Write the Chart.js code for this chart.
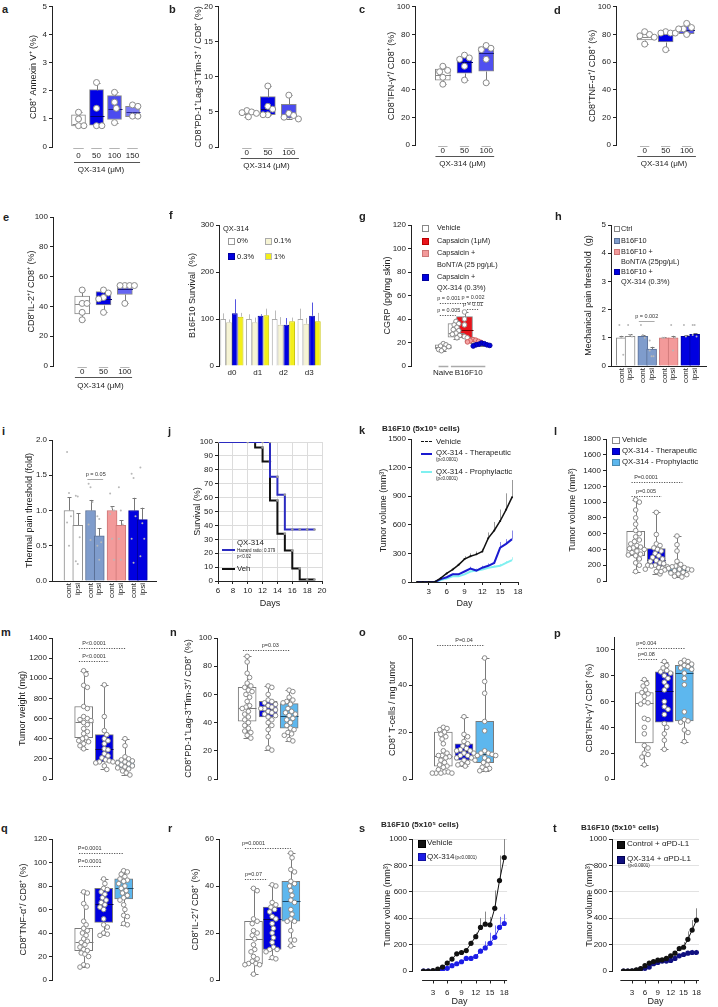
<!DOCTYPE html>
<html><head><meta charset="utf-8">
<script src="https://cdn.jsdelivr.net/npm/chart.js@4.4.0/dist/chart.umd.min.js"></script>
<style>
html,body{margin:0;padding:0;background:#fff;}
body{position:relative;width:718px;height:1007px;overflow:hidden;font-family:"Liberation Sans",Arial,Helvetica,sans-serif;}
canvas{position:absolute;}
.t{position:absolute;white-space:nowrap;line-height:1;color:#222;}
.sw{position:absolute;box-sizing:border-box;border:1px solid #888;}
.ln{position:absolute;height:0;}
</style></head><body>
<script>
// ================= DATA =================
// a
const a_cats = ['0','50','100','150'];
const a_q1 = [0.75,0.78,0.98,1.08], a_med = [0.83,1.1,1.35,1.25], a_q3 = [1.15,2.05,1.83,1.45];
const a_min = [0.74,0.76,0.85,1.08], a_max = [1.24,2.3,1.95,1.5];
const a_pts = [[1.24,1.0,0.76,0.76],[2.3,1.38,0.76,0.76],[1.95,1.6,1.38,0.87],[1.5,1.45,1.1,1.1]];
// b
const b_cats = ['0','50','100'];
const b_q1 = [4.6,4.6,4.1], b_med = [4.75,5.4,4.6], b_q3 = [5.0,7.2,6.1];
const b_min = [4.3,4.6,4.0], b_max = [5.2,8.7,7.4];
const b_pts = [[5.2,5.0,4.9,4.8,4.3],[8.7,5.8,5.4,4.6,4.6],[7.4,4.8,4.5,4.25,4.0]];
// c
const c_cats = ['0','50','100'];
const c_q1 = [47,52,53.5], c_med = [51,60,66.5], c_q3 = [55,63.5,71];
const c_min = [44,47,45], c_max = [57,65,72];
const c_pts = [[57,54,53,49,44],[65,63,62,57,47],[72,70,69,62,45]];
// d
const d_cats = ['0','50','100'];
const d_q1 = [76,74.5,80.5], d_med = [78,80,83], d_q3 = [80.5,80.5,86];
const d_min = [73,69,80], d_max = [82,82,88];
const d_pts = [[82,80,79,78,73],[82,81,81,81,69],[88,85,84,84,80]];
// e
const e_cats = ['0','50','100'];
const e_q1 = [35,41,48], e_med = [41.5,45,51.5], e_q3 = [47,50,53.5];
const e_min = [31,36,42], e_max = [51,51,54.5];
const e_pts = [[51,42,42,36,31],[51,49,46,45,36],[54,54,54,54,42]];
// f
const f_days = ['d0','d1','d2','d3'];
const f_v0 = [100,100,100,100], f_e0 = [12,10,18,22];
const f_v01 = [93,93,88,90], f_e01 = [6,10,16,12];
const f_v03 = [112,107,88,107], f_e03 = [30,3,14,28];
const f_v1 = [105,108,95,95], f_e1 = [8,14,8,18];
// g
const g_cats = ['Vehicle','Vehicle','Capsaicin (1μM)','Capsaicin + BoNT/A (25 pg/μL)','Capsaicin + QX-314 (0.3%)'];
const g_groups = ['Naive','B16F10'];
const g_q1 = [14.5,24.5,24,20.5,17.5], g_med = [16,28,31,21,18.5], g_q3 = [18,36,42,22,19];
const g_min = [13,23,24,20,17], g_max = [19,38,46,22.5,19.5];
const g_pts = [[19,18,17,16.5,15,14,13],[38,36,35,33,31,30,28,27,26,24],[46,40,35,25,24],[22.5,22,21.5,21,20.5,20],[19.5,19,18.5,18,18,17.5,17]];
// h, i
const hi_labels = ['cont','ipsi','cont','ipsi','cont','ipsi','cont','ipsi'];
const h_vals = [1.0,1.05,1.05,0.6,1.0,1.0,1.05,1.12];
const h_err = [0.07,0.07,0.04,0.08,0.02,0.07,0.05,0.05];
const h_pts = [[1.45,1.0,0.4],[1.45,1.1,1.05],[1.45,1.1,1.0],[0.9,0.35,0.35,0.55],[1.0,1.0],[1.45,0.55,1.0],[1.45,1.05],[1.45,1.45,1.05,1.1]];
const i_vals = [1.0,0.79,1.0,0.64,1.0,0.79,1.0,0.87];
const i_err = [0.19,0.17,0.15,0.11,0.06,0.07,0.18,0.17];
const i_pts = [[1.83,1.25,0.92,0.83,0.5],[1.21,1.2,0.62,0.28,0.24],[1.38,1.33,1.12,0.8,0.58],[0.92,0.88,0.55,0.5,0.3],[1.24,1.04,1.0,0.95,0.6,0.3],[1.33,1.0,0.8,0.6,0.3],[1.52,1.46,0.92,0.6,0.26],[1.61,0.82,0.6,0.35]];
// j
const j_vehT = [6,10,11,12,13,14,15,16,17,18,19];
const j_vehS = [100,100,100,96,86,58,34,22,9,1,1];
const j_qxT = [6,10,12,13,14,15,16,17,18,19];
const j_qxS = [100,100,100,100,75,62,37,37,37,37];
// k
const k_days = [1,2,3,4,5,6,7,8,9,10,11,12,13,14,15,16,17];
const k_xt = [3,6,9,12,15,18];
const k_veh = [0,0,0,0,40,90,130,180,240,270,290,320,460,540,640,760,890];
const k_vehE = [0,0,0,0,10,10,20,20,30,30,30,30,60,90,120,170,180];
const k_ther = [0,0,0,0,30,50,80,80,110,140,120,150,170,200,360,400,450];
const k_therE = [0,0,0,0,5,10,10,10,15,20,20,20,25,30,60,50,90];
const k_pro = [0,0,0,0,20,35,60,60,80,110,120,130,150,160,170,200,230];
const k_proE = [0,0,0,0,5,5,10,10,10,10,10,15,15,15,20,20,30];
// l
const l_q1 = [320,190,110], l_med = [420,270,140], l_q3 = [630,410,170], l_min = [120,90,50], l_max = [1030,870,570];
const l_pts = [[1030,1000,900,800,720,640,600,560,520,500,470,450,430,420,410,400,380,360,340,330,320,280,230,200,120],
  [870,590,470,450,420,400,380,350,320,300,280,260,250,230,220,200,200,190,180,170,160,150,120,90],
  [570,460,380,250,210,190,180,170,160,150,150,140,140,130,120,110,100,90,80,60,50]];
// m
const m_q1 = [410,170,110], m_med = [570,300,150], m_q3 = [720,440,190], m_min = [300,95,40], m_max = [1075,935,400];
const m_pts = [[1075,1040,930,910,720,700,620,600,590,580,560,540,500,470,450,410,400,380,370,350,330,300],
  [935,620,480,440,400,380,350,300,290,250,230,210,190,180,170,170,160,130,95],
  [400,330,220,200,190,180,170,160,150,140,130,120,110,100,80,60,40]];
// n
const n_q1 = [41,44,36], n_med = [50.5,50,45], n_q3 = [65,55,53.5], n_min = [29,20.5,27], n_max = [87,66,63];
const n_pts = [[87,83,75,72,68,66,65,63,62,60,58,55,52,51,50,48,46,44,42,40,38,36,34,33,31,29],
  [66,65,60,56,55,54,53,52,51,50,50,49,48,47,46,45,44,42,40,38,35,30,22,20.5],
  [63,62,58,56,55,54,53,50,48,47,46,45,43,42,40,38,36,35,33,32,31,28,27]];
// o
const o_q1 = [5.5,8,7], o_med = [10,12,10.5], o_q3 = [20,15,24.5], o_min = [2.5,5.5,3.5], o_max = [22,26.5,51.5];
const o_pts = [[22,21.5,21,20,19,18,17,15,12,11,10,10,9.5,9,8,7,6,5.5,5,4,3,3,2.5,2.5,2.5,2.5],
  [26.5,19,18,16,15,14,13,12.5,12,12,11,11,10,10,9,9,8,8,7,6.5,6,5.5],
  [51.5,41.5,36.5,24.5,20.5,12,11,11,10.5,10,10,9,8,7,6,5,4.5,4,3.5]];
// p
const p_q1 = [28,44,45], p_med = [58.5,68,82], p_q3 = [67,83,88], p_min = [11,23,29], p_max = [77,91,92];
const p_pts = [[77,74,72,69,67,66,64,60,59,58,47,46,40,35,26,24,20,19,17,11],
  [91,88,86,84,83,82,80,78,75,72,69,60,56,54,50,43,40,35,30,23],
  [92,91,90,89,88,87,86,85,82,78,73,52,46,45,44,38,36,29]];
// q
const q_q1 = [25,49,69], q_med = [32,65,78], q_q3 = [44,78,86], q_min = [11,38,47], q_max = [75,86,93];
const q_pts = [[75,74,65,62,50,47,44,42,40,38,35,33,32,30,28,26,25,23,22,20,13,12,11],
  [86,82,78,77,75,73,70,68,66,64,62,60,52,47,45,40,39,38],
  [93,92,90,88,86,85,84,82,80,78,76,74,72,70,68,64,60,55,54,48,47]];
// r
const r_q1 = [7,13,25], r_med = [17.5,26,33.5], r_q3 = [25,31,42], r_min = [2.5,9,14.5], r_max = [39,40.5,54];
const r_pts = [[39,38,26,25,24,21,20,19,17.5,15,13,12,10,9,8,7,7,6.5,6.5,2.5],
  [40.5,40,33,32,31,30,29,27,26,24,22,20,18,16,14,13,13,12,9.5,9],
  [54,52,47,46,42,41,40,38,36,34,33,30,28,26,25,25,21,17,17,14.5]];
const lr_cats = ['Vehicle','QX-314 - Therapeutic','QX-314 - Prophylactic'];
// s, t
const st_days = [1,2,3,4,5,6,7,8,9,10,11,12,13,14,15,16,17,18];
const st_xt = [3,6,9,12,15,18];
const s_veh = [0,0,3,15,30,60,90,130,140,155,210,260,330,355,350,475,685,860];
const s_vehE = [0,0,0,5,8,10,10,15,15,15,20,30,70,95,60,135,190,140];
const s_qx = [0,0,0,0,12,20,40,55,70,95,95,110,150,175,210,255,330,360];
const s_qxE = [0,0,0,0,3,5,5,5,8,10,10,15,20,50,80,90,80,70];
const t_ctl = [0,0,2,8,18,40,60,72,82,85,95,115,135,170,180,240,310,385];
const t_ctlE = [0,0,0,2,3,5,5,8,8,8,10,10,15,20,40,60,75,90];
const t_qx = [0,0,0,5,15,20,30,55,65,75,75,80,95,115,125,135,140,140];
const t_qxE = [0,0,0,2,3,3,5,5,5,8,8,8,8,10,10,15,20,20];

// annotations (p-value brackets)
const g_ann = [{y:53.6,x1:-0.4,x2:2.7,tx:0.65,t:'p = 0.001'},{y:43.4,x1:-0.4,x2:1.47,tx:0.65,t:'p = 0.005'},{y:54.5,x1:2.8,x2:4.75,tx:3.5,t:'p = 0.002'},{y:48.5,x1:2.8,x2:4.1,tx:3.5,t:'p = 0.01'}];
const h_ann = [{y:1.6,x1:2.0,x2:3.8,tx:2.9,t:'p = 0.002',dash:[],c:'#aaa'}];
const i_ann = [{y:1.45,x1:2.1,x2:3.9,tx:3.05,t:'p = 0.05',dash:[],c:'#aaa'}];
const l_ann = [{y:1255,x1:-0.2,x2:2.26,tx:0.5,t:'P=0.0001'},{y:1077,x1:-0.2,x2:1.26,tx:0.5,t:'p=0.005'}];
const m_ann = [{y:1300,x1:-0.23,x2:2.03,tx:0.5,t:'P<0.0001'},{y:1172,x1:-0.23,x2:1.23,tx:0.5,t:'P<0.0001'}];
const n_ann = [{y:91.5,x1:-0.2,x2:2.06,tx:1.1,t:'p=0.03'}];
const o_ann = [{y:57,x1:-0.3,x2:2.0,tx:1.0,t:'P=0.04'}];
const p_ann = [{y:101.5,x1:-0.3,x2:2.03,tx:0.1,t:'p=0.004'},{y:93,x1:-0.3,x2:0.7,tx:0.1,t:'p=0.08'}];
const q_ann = [{y:108.5,x1:-0.23,x2:2.0,tx:0.3,t:'P=0.0001'},{y:97.4,x1:-0.23,x2:0.83,tx:0.3,t:'P=0.0001'}];
const r_ann = [{y:56,x1:-0.46,x2:2.0,tx:0,t:'p=0.0001'},{y:43,x1:-0.46,x2:0.75,tx:0,t:'p=0.07'}];

// ================= STYLE =================
const FF = '"Liberation Sans", Arial, Helvetica, sans-serif';
const BLUE = '#0000e0', LBLUE = '#5db7ee', STEEL = '#7f9ccc', SALMON = '#f39a9a';
Chart.defaults.font.family = FF;
Chart.defaults.font.size = 8;
Chart.defaults.color = '#222';
Chart.defaults.plugins.legend.display = false;
Chart.defaults.plugins.tooltip.enabled = false;
Chart.defaults.animation = false;
Chart.defaults.events = [];

// ================= PLUGINS =================
const boxPlug = { id: 'boxw',
  afterDatasetDraw(chart, args) {
    const ds = chart.data.datasets[args.index]; const b = ds && ds.box; if (!b) return;
    const ctx = chart.ctx, x = chart.scales.x, y = chart.scales.y;
    const Y = v => Math.round(y.getPixelForValue(v)) + 0.5;
    ctx.save(); ctx.lineWidth = 1;
    ds.data.forEach((d, i) => {
      const px = Math.round(x.getPixelForValue(d.x)) + 0.5;
      ctx.strokeStyle = Array.isArray(b.wc) ? b.wc[i] : b.wc;
      ctx.beginPath();
      ctx.moveTo(px, Y(b.q3[i])); ctx.lineTo(px, Y(b.max[i]));
      ctx.moveTo(px - b.cap, Y(b.max[i])); ctx.lineTo(px + b.cap, Y(b.max[i]));
      ctx.moveTo(px, Y(b.q1[i])); ctx.lineTo(px, Y(b.min[i]));
      ctx.moveTo(px - b.cap, Y(b.min[i])); ctx.lineTo(px + b.cap, Y(b.min[i]));
      ctx.stroke();
      ctx.strokeStyle = Array.isArray(b.medc) ? b.medc[i] : b.medc;
      ctx.beginPath(); ctx.moveTo(px - b.bw / 2, Y(b.med[i])); ctx.lineTo(px + b.bw / 2, Y(b.med[i])); ctx.stroke();
    });
    ctx.restore();
  } };
const errPlug = { id: 'errb',
  beforeDatasetsDraw(chart) {
    const ctx = chart.ctx;
    chart.data.datasets.forEach((ds, di) => {
      if (!ds.errUp) return;
      const meta = chart.getDatasetMeta(di); const y = chart.scales[meta.yAxisID];
      ctx.save(); ctx.strokeStyle = ds.errColor || '#888'; ctx.lineWidth = ds.errW || 1;
      meta.data.forEach((el, i) => {
        const raw = ds.data[i]; const v = (raw !== null && typeof raw === 'object') ? raw.y : raw;
        const e = ds.errUp[i]; if (v == null || !e) return;
        const X = Math.round(el.x) + 0.5, y0 = y.getPixelForValue(v), y1 = y.getPixelForValue(v + e);
        ctx.beginPath(); ctx.moveTo(X, y0); ctx.lineTo(X, y1);
        if (ds.errCap) { ctx.moveTo(X - ds.errCap, Math.round(y1) + 0.5); ctx.lineTo(X + ds.errCap, Math.round(y1) + 0.5); }
        ctx.stroke();
      });
      ctx.restore();
    });
  } };
const decoPlug = { id: 'deco',
  afterDraw(chart) {
    const D = chart.canvas._deco; if (!D) return;
    const ctx = chart.ctx, ca = chart.chartArea, x = chart.scales.x, y = chart.scales.y;
    ctx.save();
    (D.segs || []).forEach(s => {
      ctx.strokeStyle = s.c; ctx.lineWidth = s.w; ctx.setLineDash([]);
      const yy = Math.round(ca.bottom + s.dy) + 0.5;
      ctx.beginPath(); ctx.moveTo(x.getPixelForValue(s.x1), yy); ctx.lineTo(x.getPixelForValue(s.x2), yy); ctx.stroke();
    });
    (D.pl || []).forEach(p => {
      const yy = Math.round(y.getPixelForValue(p.y)) + 0.5;
      ctx.strokeStyle = p.c || '#555'; ctx.lineWidth = 1; ctx.setLineDash(p.dash || [1.2, 1.3]);
      ctx.beginPath(); ctx.moveTo(x.getPixelForValue(p.x1), yy); ctx.lineTo(x.getPixelForValue(p.x2), yy); ctx.stroke();
      ctx.setLineDash([]);
      ctx.fillStyle = '#333'; ctx.font = (p.fs || 5.5) + 'px ' + FF; ctx.textAlign = 'center'; ctx.textBaseline = 'bottom';
      ctx.fillText(p.t, x.getPixelForValue(p.tx), yy - 2);
    });
    if (D.xl) {
      const yy = Math.round(ca.bottom + D.xl.dy) + 0.5;
      ctx.strokeStyle = '#222'; ctx.lineWidth = 1; ctx.beginPath();
      ctx.moveTo(x.getPixelForValue(D.xl.x1), yy); ctx.lineTo(x.getPixelForValue(D.xl.x2), yy);
      D.xl.ticks.forEach(t => { const X = Math.round(x.getPixelForValue(t)) + 0.5; ctx.moveTo(X, yy); ctx.lineTo(X, yy + 3); });
      ctx.stroke();
    }
    ctx.restore();
  } };
Chart.register(boxPlug, errPlug, decoPlug);

// ================= HELPERS =================
function yAxis(max, step, title, ext) {
  const o = {
    type: 'linear', min: 0, max: max,
    ticks: { stepSize: step, padding: 2, autoSkip: false, font: { size: 8 }, color: '#222', callback: v => String(v) },
    grid: { drawOnChartArea: false, drawTicks: true, tickLength: 3, tickColor: '#222', tickWidth: 1 },
    border: { display: true, color: '#222', width: 1 },
    title: { display: !!title, text: title || '', font: { size: 9 }, padding: 0, color: '#222' }
  };
  return Object.assign(o, ext || {});
}
function mk(g, cfg) {
  const padT = (g.padT != null) ? g.padT : 8, padR = (g.padR != null) ? g.padR : 10;
  const L = g.ax - g.yW, T = g.top - padT;
  const W = Math.round(g.right - g.ax + g.yW + padR), H = Math.round(g.bottom - g.top + padT + g.xH);
  const c = document.createElement('canvas');
  c.width = W; c.height = H;
  c.style.left = L + 'px'; c.style.top = T + 'px'; c.style.width = W + 'px'; c.style.height = H + 'px';
  c._deco = g.deco || null;
  document.body.appendChild(c);
  const o = cfg.options;
  o.responsive = false; o.maintainAspectRatio = false; o.animation = false; o.devicePixelRatio = 1;
  o.layout = { padding: { top: padT, right: padR, left: 0, bottom: 0 } };
  o.scales.y.afterFit = s => { s.width = g.yW; };
  o.scales.x.afterFit = s => { s.height = g.xH; };
  return new Chart(c, cfg);
}
function swarm(vals, cx, pxY, pxX, r) {
  const idx = vals.map((v, i) => i).sort((a, b) => vals[b] - vals[a]);
  const placed = [], out = [];
  const D = 2 * r + 0.4;
  idx.forEach(i => {
    const yp = vals[i] * pxY;
    let off = 0;
    for (let k = 0; k < 80; k++) {
      const o = (k === 0) ? 0 : ((k % 2) ? 1 : -1) * Math.ceil(k / 2) * r * 0.8;
      off = o;
      if (placed.every(p => (p.o - o) * (p.o - o) + (p.y - yp) * (p.y - yp) >= D * D)) break;
    }
    placed.push({ o: off, y: yp });
    out.push({ x: cx + off / pxX, y: vals[i] });
  });
  return out;
}
function boxPanel(g, d, st) {
  const xs = st.xs || d.q1.map((v, i) => i);
  const pxY = (g.bottom - g.top) / st.ymax;
  const pts = [], pf = [], pe = [];
  d.pts.forEach((arr, ci) => {
    swarm(arr, xs[ci], pxY, g.dc, st.r).forEach(p => {
      pts.push(p);
      pf.push(st.pfill ? st.pfill[ci] : '#fff');
      pe.push(st.pedge ? st.pedge[ci] : '#8a8a8a');
    });
  });
  const segs = [];
  if (st.dash) xs.forEach(x => segs.push({ x1: x - st.dash / g.dc, x2: x + st.dash / g.dc, dy: 1, c: '#b4b4b4', w: 1 }));
  if (st.gl) segs.push({ x1: st.gl[0], x2: st.gl[1], dy: st.gl[2], c: '#555', w: 1 });
  if (st.segs) st.segs.forEach(s => segs.push(s));
  g.deco = { segs: segs, pl: st.pl || [] };
  const xt = st.xt || { vals: xs, labels: d.cats };
  const xmin = (g.ax - g.c0) / g.dc, xmax = (g.right - g.c0) / g.dc;
  return mk(g, {
    type: 'scatter',
    data: { datasets: [
      { type: 'bar', order: 2, data: xs.map((x, i) => ({ x: x, y: [d.q1[i], d.q3[i]] })),
        backgroundColor: st.fill, borderColor: st.edge || '#7a7a7a', borderWidth: 1, borderSkipped: false, barThickness: st.bw,
        box: { med: d.med, min: d.min, max: d.max, q1: d.q1, q3: d.q3, cap: st.cap || 3, medc: st.medc || '#555', wc: st.wc || '#7a7a7a', bw: st.bw } },
      { type: 'scatter', order: 1, data: pts, pointRadius: st.r, pointBackgroundColor: pf, pointBorderColor: pe, pointBorderWidth: 1 }
    ] },
    options: { scales: {
      x: { type: 'linear', min: xmin, max: xmax,
        afterBuildTicks: s => { s.ticks = xt.vals.map(v => ({ value: v })); },
        ticks: { display: !!st.xlab, autoSkip: false, maxRotation: 0, minRotation: 0, padding: st.lpad || 1, font: { size: 8 }, color: '#222',
          callback: v => { const k = xt.vals.indexOf(v); return k >= 0 ? xt.labels[k] : ''; } },
        grid: { display: false, drawTicks: false }, border: { display: false },
        title: { display: !!st.group, text: st.group || '', font: { size: 8 }, padding: 0, color: '#222' } },
      y: yAxis(st.ymax, st.step, st.title, st.yext)
    } }
  });
}
function barPanel(g, vals, errs, dots, st) {
  const xs = vals.map((v, i) => i + Math.floor(i / 2) * 0.46);
  const dp = [];
  dots.forEach((arr, bi) => arr.forEach((v, k) => dp.push({ x: xs[bi] + ((k % 3) - 1) * 0.22, y: v })));
  g.deco = { segs: [], pl: st.pl || [] };
  return mk(g, { type: 'scatter', data: { datasets: [
    { type: 'bar', order: 2, data: xs.map((x, i) => ({ x: x, y: vals[i] })), backgroundColor: st.fill, borderColor: st.edge, borderWidth: 1,
      barThickness: 10, borderSkipped: 'start', errUp: errs, errColor: '#777', errCap: 2 },
    { type: 'scatter', order: 1, data: dp, pointRadius: 1, pointBackgroundColor: '#b8b8b8', pointBorderWidth: 0 }
  ] }, options: { scales: {
    x: { type: 'linear', min: (g.ax - g.c0) / g.dc, max: (g.right - g.c0) / g.dc,
      afterBuildTicks: s => { s.ticks = xs.map(v => ({ value: v })); },
      ticks: { autoSkip: false, minRotation: 90, maxRotation: 90, padding: 2, font: { size: 8 }, color: '#222',
        callback: v => { const k = xs.indexOf(v); return k >= 0 ? st.labels[k] : ''; } },
      grid: { display: false, drawTicks: false }, border: { display: true, color: '#222' } },
    y: yAxis(st.ymax, st.step, st.title, st.yext)
  } } });
}
function growth(g, sets, st) {
  g.deco = { xl: { x1: st.xl[0], x2: st.xl[1], dy: 9, ticks: st.xt } };
  return mk(g, { type: 'scatter', data: { datasets: sets.map(s => ({
      type: 'line', order: s.o, data: st.days.map((d, i) => ({ x: d, y: s.v[i] })), borderColor: s.c, backgroundColor: s.c,
      borderWidth: 1, pointRadius: 2.6, pointBackgroundColor: s.c, pointBorderWidth: 0, errUp: s.e, errColor: s.ec })) },
    options: { scales: {
      x: { type: 'linear', min: st.xmin, max: st.xmax, afterBuildTicks: s => { s.ticks = st.xt.map(v => ({ value: v })); },
        ticks: { autoSkip: false, maxRotation: 0, minRotation: 0, padding: 17, font: { size: 8 } },
        grid: { display: false, drawTicks: false }, border: { display: false },
        title: { display: true, text: 'Day', font: { size: 9 }, padding: 0 } },
      y: yAxis(1000, 200, 'Tumor volume (mm³)', { grid: { drawOnChartArea: true, color: c => (c.tick && c.tick.value === 0) ? 'rgba(0,0,0,0)' : '#e2e2e2', drawTicks: true, tickLength: 3, tickColor: '#222' } })
    } } });
}
function T(x, y, s, size, o) {
  o = o || {};
  const d = document.createElement('div'); d.className = 't'; d.textContent = s;
  d.style.left = x + 'px'; d.style.top = (y - size * 0.5) + 'px'; d.style.fontSize = size + 'px';
  if (o.b) d.style.fontWeight = 'bold';
  if (o.c) d.style.color = o.c;
  document.body.appendChild(d); return d;
}
function SW(x, y, w, h, bg, bd) {
  const d = document.createElement('div'); d.className = 'sw';
  Object.assign(d.style, { left: x + 'px', top: y + 'px', width: w + 'px', height: h + 'px', background: bg, borderColor: bd });
  document.body.appendChild(d);
}
function LN(x1, x2, y, c, w, style) {
  const d = document.createElement('div'); d.className = 'ln';
  Object.assign(d.style, { left: x1 + 'px', top: (y - w / 2) + 'px', width: (x2 - x1) + 'px', borderTop: w + 'px ' + (style || 'solid') + ' ' + c });
  document.body.appendChild(d);
}

// ================= PANELS =================
const MEDC = ['#888', '#000070', '#1a1a80', '#2a2a90'];
// a
boxPanel({ ax: 52, top: 6, bottom: 147, right: 150, yW: 24, xH: 28, padT: 6, c0: 71, dc: 24 },
  { cats: a_cats, q1: a_q1, med: a_med, q3: a_q3, min: a_min, max: a_max, pts: a_pts },
  { ymax: 5, step: 1, title: 'CD8⁺ Annexin V⁺ (%)', fill: ['#fff', '#0000e6', '#4b4bef', '#7d7df5'], edge: '#888', medc: MEDC, bw: 14, r: 3, cap: 3,
    xlab: true, lpad: 4, dash: 7, gl: [-0.25, 3.42, 15], group: 'QX-314 (μM)' });
// b
boxPanel({ ax: 218, top: 6, bottom: 147, right: 315, yW: 25, xH: 24, padT: 6, c0: 237, dc: 31.5 },
  { cats: b_cats, q1: b_q1, med: b_med, q3: b_q3, min: b_min, max: b_max, pts: b_pts },
  { ymax: 20, step: 5, title: 'CD8⁺PD-1⁺Lag-3⁺Tim-3⁺ / CD8⁺ (%)', fill: ['#fff', '#0000e6', '#4b4bef'], edge: '#888', medc: MEDC, bw: 15, r: 3, cap: 3,
    xlab: true, lpad: 1, dash: 7, gl: [-0.29, 2.48, 11], group: 'QX-314 (μM)' });
// c
boxPanel({ ax: 415, top: 6, bottom: 145, right: 510, yW: 29, xH: 24, padT: 6, c0: 433, dc: 32.5 },
  { cats: c_cats, q1: c_q1, med: c_med, q3: c_q3, min: c_min, max: c_max, pts: c_pts },
  { ymax: 100, step: 20, title: 'CD8⁺IFN-γ⁺/ CD8⁺ (%)', fill: ['#fff', '#0000e6', '#5050f0'], edge: '#888', medc: MEDC, bw: 15, r: 3, cap: 3,
    xlab: true, lpad: 1, dash: 7, gl: [-0.34, 2.37, 11], group: 'QX-314 (μM)' });
// d
boxPanel({ ax: 616, top: 5, bottom: 145, right: 712, yW: 29, xH: 24, padT: 5, padR: 5, c0: 635, dc: 31.5 },
  { cats: d_cats, q1: d_q1, med: d_med, q3: d_q3, min: d_min, max: d_max, pts: d_pts },
  { ymax: 100, step: 20, title: 'CD8⁺TNF-α⁺/ CD8⁺ (%)', fill: ['#fff', '#0000e6', '#5050f0'], edge: '#888', medc: MEDC, bw: 15, r: 3, cap: 3,
    xlab: true, lpad: 1, dash: 7, gl: [-0.35, 2.44, 11], group: 'QX-314 (μM)' });
// e
boxPanel({ ax: 53, top: 217, bottom: 366, right: 148, yW: 27, xH: 25, c0: 73, dc: 32 },
  { cats: e_cats, q1: e_q1, med: e_med, q3: e_q3, min: e_min, max: e_max, pts: e_pts },
  { ymax: 100, step: 20, title: 'CD8⁺IL-2⁺/ CD8⁺ (%)', fill: ['#fff', '#0000e6', '#6565f2'], edge: '#888', medc: MEDC, bw: 15, r: 3, cap: 3,
    xlab: true, lpad: 1, dash: 7, gl: [-0.34, 2.34, 11], group: 'QX-314 (μM)' });
// f
mk({ ax: 219, top: 225, bottom: 366, right: 322, yW: 32, xH: 16 }, { type: 'bar', data: { labels: f_days, datasets: [
    { data: f_v0, backgroundColor: '#fff', borderColor: '#aaa', borderWidth: 1, errUp: f_e0, errColor: '#bbb' },
    { data: f_v01, backgroundColor: '#f6f4d4', borderColor: '#c8c6a8', borderWidth: 1, errUp: f_e01, errColor: '#bbb' },
    { data: f_v03, backgroundColor: BLUE, borderColor: '#0000a0', borderWidth: 1, errUp: f_e03, errColor: '#5555e0' },
    { data: f_v1, backgroundColor: '#f3ef1a', borderColor: '#c8c400', borderWidth: 1, errUp: f_e1, errColor: '#bbb' }
  ] }, options: { datasets: { bar: { categoryPercentage: 0.9, barPercentage: 1 } }, scales: {
    x: { type: 'category', offset: true, grid: { display: false, drawTicks: false }, border: { display: false }, ticks: { padding: 2, font: { size: 8 } } },
    y: yAxis(300, 100, 'B16F10 Survival  (%)') } } });
// g
boxPanel({ ax: 411, top: 225, bottom: 366, right: 510, yW: 29, xH: 16, c0: 426, dc: 17 },
  { cats: g_cats, q1: g_q1, med: g_med, q3: g_q3, min: g_min, max: g_max, pts: g_pts },
  { xs: g_cats.map((c, i) => (i === 0 ? 0 : i + 0.5)), xt: { vals: [0, 3], labels: g_groups },
    ymax: 120, step: 20, title: 'CGRP (pg/mg skin)', fill: ['#fff', '#fff', '#e8141c', SALMON, BLUE], edge: '#888',
    medc: ['#888', '#888', '#7a0000', '#c06060', '#000070'], bw: 16, r: 2.3, cap: 3,
    pfill: ['#fff', '#fff', '#fff', '#f4a4a4', BLUE], pedge: ['#888', '#888', '#999', '#d06060', '#0000a0'],
    xlab: true, lpad: 2, segs: [{ x1: -0.55, x2: 0.6, dy: 0, c: '#aaa', w: 1.5 }, { x1: 0.9, x2: 4.95, dy: 0, c: '#aaa', w: 1.5 }], pl: g_ann });
// h
const HI_FILL = ['#fff', '#fff', STEEL, STEEL, SALMON, SALMON, BLUE, BLUE];
const HI_EDGE = ['#888', '#888', '#5a6f95', '#5a6f95', '#c77', '#c77', '#0000a0', '#0000a0'];
barPanel({ ax: 611, top: 225, bottom: 366, right: 706, yW: 28, xH: 30, padR: 8, c0: 616, dc: 10 }, h_vals, h_err, h_pts,
  { labels: hi_labels, fill: HI_FILL, edge: HI_EDGE, ymax: 5, step: 1, title: 'Mechanical pain threshold  (g)', pl: h_ann });
// i
barPanel({ ax: 52, top: 440, bottom: 581, right: 156, yW: 28, xH: 22, c0: 64, dc: 10 }, i_vals, i_err, i_pts,
  { labels: hi_labels, fill: HI_FILL, edge: HI_EDGE, ymax: 2, step: 0.5, title: 'Thermal pain threshold (fold)', pl: i_ann,
    yext: { ticks: { stepSize: 0.5, padding: 2, autoSkip: false, font: { size: 8 }, color: '#222', callback: v => v.toFixed(1) } } });
// j
mk({ ax: 218, top: 442, bottom: 581, right: 322, yW: 26, xH: 28, padR: 8 }, { type: 'scatter', data: { datasets: [
    { type: 'line', data: j_qxT.map((t, i) => ({ x: t, y: j_qxS[i] })), stepped: 'after', borderColor: '#2b2bc0', borderWidth: 2, pointRadius: 1.3, pointBackgroundColor: '#999', pointBorderWidth: 0 },
    { type: 'line', data: j_vehT.map((t, i) => ({ x: t, y: j_vehS[i] })), stepped: 'after', borderColor: '#111', borderWidth: 2, pointRadius: 1.3, pointBackgroundColor: '#999', pointBorderWidth: 0 }
  ] }, options: { scales: {
    x: { type: 'linear', min: 6, max: 20, ticks: { stepSize: 2, autoSkip: false, maxRotation: 0, padding: 2, font: { size: 8 } },
      grid: { color: '#dcdcdc', drawTicks: true, tickLength: 3, tickColor: '#222' }, border: { display: true, color: '#222' },
      title: { display: true, text: 'Days', font: { size: 9 }, padding: 0 } },
    y: yAxis(100, 10, 'Survival (%)', { grid: { color: '#dcdcdc', drawOnChartArea: true, drawTicks: true, tickLength: 3, tickColor: '#222' } })
  } } });
// k
const kset = (v, e, c, ec, w, pr) => ({ type: 'line', data: k_days.map((d, i) => ({ x: d, y: v[i] })), borderColor: c, backgroundColor: c,
  borderWidth: w, pointRadius: pr, pointBackgroundColor: c, pointBorderWidth: 0, errUp: e, errColor: ec });
mk({ ax: 411, top: 439, bottom: 582, right: 518, yW: 33, xH: 27, padR: 8 }, { type: 'scatter', data: { datasets: [
    kset(k_veh, k_vehE, '#111', '#999', 1.5, 1),
    kset(k_ther, k_therE, '#1a1ad0', '#8a8ae6', 2, 0),
    kset(k_pro, k_proE, '#7ff0f0', '#b0f4f4', 2, 0)
  ] }, options: { scales: {
    x: { type: 'linear', min: 0, max: 18, afterBuildTicks: s => { s.ticks = k_xt.map(v => ({ value: v })); },
      ticks: { autoSkip: false, maxRotation: 0, padding: 2, font: { size: 8 } },
      grid: { drawOnChartArea: false, drawTicks: true, tickLength: 3, tickColor: '#222' }, border: { display: true, color: '#222' },
      title: { display: true, text: 'Day', font: { size: 9 }, padding: 0 } },
    y: yAxis(1500, 300, 'Tumor volume (mm³)')
  } } });
// l - r
const LR_FILL = ['#fff', BLUE, LBLUE], LR_MED = ['#777', '#000060', '#1a4a6a'];
const lrst = (ymax, step, title, pl, extra) => Object.assign({ ymax, step, title, pl, fill: LR_FILL, edge: '#7a7a7a', medc: LR_MED, bw: 18, r: 2.3, cap: 4 }, extra || {});
boxPanel({ ax: 606, top: 439, bottom: 581, right: 700, yW: 39, xH: 8, padR: 12, c0: 627, dc: 31 },
  { cats: lr_cats, q1: l_q1, med: l_med, q3: l_q3, min: l_min, max: l_max, pts: l_pts }, lrst(1800, 200, 'Tumor volume (mm³)', l_ann));
boxPanel({ ax: 52, top: 638, bottom: 779, right: 150, yW: 35, xH: 8, c0: 75, dc: 31 },
  { cats: lr_cats, q1: m_q1, med: m_med, q3: m_q3, min: m_min, max: m_max, pts: m_pts }, lrst(1400, 200, 'Tumor weight (mg)', m_ann));
boxPanel({ ax: 217, top: 638, bottom: 779, right: 318, yW: 34, xH: 8, c0: 237, dc: 31.5 },
  { cats: lr_cats, q1: n_q1, med: n_med, q3: n_q3, min: n_min, max: n_max, pts: n_pts }, lrst(100, 20, 'CD8⁺PD-1⁺Lag-3⁺Tim-3⁺/ CD8⁺ (%)', n_ann));
boxPanel({ ax: 412, top: 638, bottom: 779, right: 512, yW: 25, xH: 8, c0: 434, dc: 31 },
  { cats: lr_cats, q1: o_q1, med: o_med, q3: o_q3, min: o_min, max: o_max, pts: o_pts }, lrst(60, 20, 'CD8⁺ T-cells / mg tumor', o_ann));
boxPanel({ ax: 614, top: 637, bottom: 779, right: 712, yW: 30, xH: 8, padR: 5, c0: 635, dc: 30 },
  { cats: lr_cats, q1: p_q1, med: p_med, q3: p_q3, min: p_min, max: p_max, pts: p_pts },
  lrst(110, 20, 'CD8⁺IFN-γ⁺/ CD8⁺ (%)', p_ann, { yext: { afterBuildTicks: s => { s.ticks = s.ticks.filter(t => t.value <= 100); } } }));
boxPanel({ ax: 52, top: 839, bottom: 980, right: 150, yW: 34, xH: 8, c0: 75, dc: 30 },
  { cats: lr_cats, q1: q_q1, med: q_med, q3: q_q3, min: q_min, max: q_max, pts: q_pts }, lrst(120, 20, 'CD8⁺TNF-α⁺/ CD8⁺ (%)', q_ann));
boxPanel({ ax: 219, top: 839, bottom: 980, right: 318, yW: 29, xH: 8, c0: 246, dc: 28 },
  { cats: lr_cats, q1: r_q1, med: r_med, q3: r_q3, min: r_min, max: r_max, pts: r_pts }, lrst(60, 20, 'CD8⁺IL-2⁺/ CD8⁺ (%)', r_ann));
// s
growth({ ax: 412, top: 839, bottom: 971, right: 516, yW: 30, xH: 36 }, [
    { v: s_veh, e: s_vehE, c: '#111', ec: '#888', o: 0 },
    { v: s_qx, e: s_qxE, c: '#1c1ce6', ec: '#7a7af0', o: 1 }
  ], { days: st_days, xt: st_xt, xmin: -1.42, xmax: 18.6, xl: [0.7, 18.6] });
// t
growth({ ax: 612, top: 839, bottom: 971, right: 716, yW: 28, xH: 36, padR: 2 }, [
    { v: t_ctl, e: t_ctlE, c: '#111', ec: '#888', o: 0 },
    { v: t_qx, e: t_qxE, c: '#101080', ec: '#7070c0', o: 1 }
  ], { days: st_days, xt: st_xt, xmin: -1.68, xmax: 18.6, xl: [0.27, 18.6] });

// ================= TEXT / LEGENDS =================
[['a',2,9],['b',169,9],['c',359,9],['d',554,10],['e',3,217],['f',169,215],['g',359,216],['h',555,216],
 ['i',2,431],['j',168,431],['k',359,430],['l',554,431],['m',1,632],['n',170,632],['o',359,632],['p',554,633],
 ['q',1,828],['r',168,828],['s',359,828],['t',553,828]].forEach(l => T(l[1], l[2], l[0], 11, { b: 1 }));
// f legend
T(223, 229, 'QX-314', 7.5);
SW(228, 238, 7, 7, '#fff', '#999'); T(237, 241, '0%', 7.5);
SW(265, 238, 7, 7, '#f6f4d4', '#aaa'); T(274, 241, '0.1%', 7.5);
SW(228, 253, 7, 7, BLUE, '#0000a0'); T(237, 257, '0.3%', 7.5);
SW(265, 253, 7, 7, '#f3ef1a', '#bbb'); T(274, 257, '1%', 7.5);
// g legend
SW(422, 225, 7, 7, '#fff', '#888'); T(437, 228, 'Vehicle', 7.3);
SW(422, 238, 7, 7, '#e8141c', '#b00'); T(437, 241, 'Capsaicin (1μM)', 7.3);
SW(422, 250, 7, 7, SALMON, '#c77'); T(437, 253, 'Capsaicin +', 7.3); T(437, 265, 'BoNT/A (25 pg/μL)', 7.3);
SW(422, 274, 7, 7, BLUE, '#0000a0'); T(437, 277, 'Capsaicin +', 7.3); T(437, 288, 'QX-314 (0.3%)', 7.3);
// h legend
SW(614, 226, 6, 6, '#fff', '#888'); T(621, 229, 'Ctrl', 7.3);
SW(614, 238, 6, 6, STEEL, '#5a6f95'); T(621, 241, 'B16F10', 7.3);
SW(614, 249, 6, 6, SALMON, '#c77'); T(621, 252, 'B16F10 +', 7.3); T(621, 262, 'BoNT/A (25pg/μL)', 7.3);
SW(614, 269, 6, 6, BLUE, '#0000a0'); T(621, 272, 'B16F10 +', 7.3); T(621, 282, 'QX-314 (0.3%)', 7.3);
// j legend
LN(222, 235, 550, '#2b2bc0', 2); T(237, 543, 'QX-314', 7.8); T(237, 551, 'Hazard ratio: 0.379', 4.5); T(237, 557, 'p<0.02', 4.5);
LN(222, 235, 569, '#111', 2); T(237, 569, 'Veh', 7.8);
// k
T(382, 429, 'B16F10 (5x10⁵ cells)', 8, { b: 1 });
LN(421, 432, 442, '#111', 1.5, 'dashed'); T(436, 442, 'Vehicle', 7.8);
LN(421, 432, 454, '#1a1ad0', 2); T(436, 453, 'QX-314 - Therapeutic', 7.8); T(436, 460, '(p≤0.0001)', 4.5);
LN(421, 432, 472, '#7ff0f0', 2); T(436, 472, 'QX-314 - Prophylactic', 7.8); T(436, 479, '(p≤0.0001)', 4.5);
// l legend
SW(612, 437, 8, 7, '#fff', '#888'); T(622, 440, 'Vehicle', 7.8);
SW(612, 448, 8, 7, BLUE, '#0000a0'); T(622, 451, 'QX-314 - Therapeutic', 7.8);
SW(612, 459, 8, 7, LBLUE, '#4a8ab0'); T(622, 462, 'QX-314 - Prophylactic', 7.8);
// s legend
T(381, 825, 'B16F10 (5x10⁵ cells)', 8, { b: 1 });
SW(418, 840, 8, 8, '#111', '#000'); T(427, 843, 'Vehicle', 8);
SW(418, 853, 8, 8, '#1c1ce6', '#1010a0'); T(427, 857, 'QX-314', 8); T(455, 858, '(p≤0.0001)', 4.5);
// t legend
T(581, 828, 'B16F10 (5x10⁵ cells)', 8, { b: 1 });
SW(617, 841, 8, 8, '#111', '#000'); T(627, 844, 'Control + αPD-L1', 8);
SW(617, 856, 8, 8, '#101080', '#000050'); T(627, 859, 'QX-314 + αPD-L1', 8); T(628, 866, '(p≤0.0001)', 4.5);
</script>
</body></html>
